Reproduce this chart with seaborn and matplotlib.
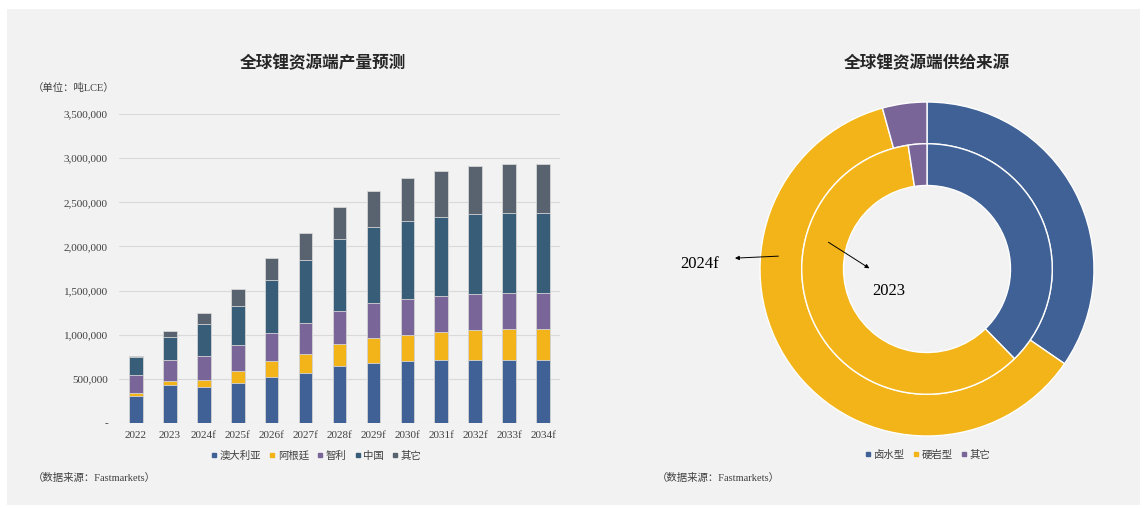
import numpy as np
import pandas as pd
import seaborn as sns
import matplotlib.pyplot as plt
from matplotlib.patches import Rectangle
from matplotlib.lines import Line2D
from matplotlib.ticker import FuncFormatter

# ---- data (吨LCE) ----
years = ["2022", "2023", "2024f", "2025f", "2026f", "2027f", "2028f",
         "2029f", "2030f", "2031f", "2032f", "2033f", "2034f"]
australia = [310000, 427000, 409000, 458000, 518000, 572000, 640000,
             677000, 697000, 708000, 708000, 712000, 712000]
argentina = [35000, 50000, 83000, 129000, 179000, 204000, 250000,
             281000, 295000, 322000, 345000, 348000, 350000]
chile = [200000, 231000, 262000, 291000, 326000, 360000, 383000,
         398000, 413000, 405000, 405000, 410000, 408000]
china = [205000, 265000, 363000, 452000, 602000, 708000, 810000,
         860000, 883000, 898000, 909000, 909000, 909000]
others = [8000, 65000, 129000, 185000, 240000, 304000, 360000,
          416000, 485000, 527000, 546000, 549000, 549000]
series_names = ["澳大利亚", "阿根廷", "智利", "中国", "其它"]
series_colors = ["#3F6196", "#F2B418", "#7A6599", "#385D78", "#58636F"]

ring_labels = ["卤水型", "硬岩型", "其它"]
share_2024f = [34.6, 61.1, 4.3]
share_2023 = [37.7, 59.9, 2.4]
ring_colors = ["#3F6196", "#F2B418", "#7A6599"]

sns.set_theme(style="white")
plt.rcParams['font.family'] = ['Liberation Serif', 'Noto Sans CJK SC']
plt.rcParams['axes.unicode_minus'] = False

W, H = 1146, 508
fig = plt.figure(figsize=(W / 100, H / 100), dpi=100, facecolor="white")
fig.patches.append(Rectangle((7 / W, 3 / H), 1133 / W, 496 / H, transform=fig.transFigure,
                             facecolor="#F2F2F2", edgecolor="none", zorder=-10))

def box(x0, y0, x1, y1):
    # pixel box (top-left origin) -> figure fraction rect
    return [x0 / W, 1 - y1 / H, (x1 - x0) / W, (y1 - y0) / H]

# ---- stacked bars ----
ax = fig.add_axes(box(119, 114, 560, 423))
ax.set_facecolor("none")
layers = [australia, argentina, chile, china, others]
cum = np.cumsum(np.array(layers), axis=0)
df = pd.DataFrame({"year": years})
for i in reversed(range(len(layers))):
    df["v"] = cum[i]
    sns.barplot(data=df, x="year", y="v", color=series_colors[i], saturation=1,
                width=0.4, edgecolor="#D6D6D6", linewidth=0.6, ax=ax, zorder=3)
ax.set_ylim(0, 3500000)
ax.set_xlim(-0.5, len(years) - 0.5)
ax.set_yticks(np.arange(0, 3500001, 500000))
ax.yaxis.set_major_formatter(FuncFormatter(lambda v, p: "-" if v == 0 else f"{int(v):,}"))
ax.grid(axis="y", color="#D9D9D9", linewidth=0.8, zorder=0)
ax.set_axisbelow(True)
for s in ax.spines.values():
    s.set_visible(False)
ax.set_xlabel("")
ax.set_ylabel("")
ax.tick_params(axis="y", labelsize=8, labelcolor="#404040", pad=8, length=0)
ax.tick_params(axis="x", labelsize=8, labelcolor="#404040", pad=6, length=0)

handles = [Line2D([], [], marker="s", linestyle="none", markersize=3.5,
                  color=c) for c in series_colors]
ax.legend(handles, series_names, loc="upper center", bbox_to_anchor=(0.448, -0.058),
          ncol=5, frameon=False, fontsize=7.5, handlelength=0.5, handletextpad=0.3,
          columnspacing=0.8, labelcolor="#404040")

fig.text(323 / W, 1 - 64 / H, "全球锂资源端产量预测", ha="center", va="center",
         fontsize=12, fontweight="bold", color="#262626")
fig.text(33 / W, 1 - 88 / H, "（单位：吨LCE）", ha="left", va="center",
         fontsize=7.5, color="#404040")
fig.text(33 / W, 1 - 478 / H, "（数据来源：Fastmarkets）", ha="left", va="center",
         fontsize=7.5, color="#404040")

# ---- donut ----
R = 167
cx, cy = 927, 269
pax = fig.add_axes(box(cx - R, cy - R, cx + R, cy + R))
pax.pie(share_2024f, colors=ring_colors, radius=1.0, startangle=90, counterclock=False,
        wedgeprops=dict(width=0.25, edgecolor="white", linewidth=1.0))
pax.pie(share_2023, colors=ring_colors, radius=0.75, startangle=90, counterclock=False,
        wedgeprops=dict(width=0.25, edgecolor="white", linewidth=1.0))
pax.set_xlim(-1, 1)
pax.set_ylim(-1, 1)
pax.set_aspect("equal")

pax.annotate("", xy=(-1.15, 0.065), xytext=(-0.89, 0.077),
             arrowprops=dict(arrowstyle="-|>", color="black", lw=0.7,
                             mutation_scale=6, shrinkA=0, shrinkB=0),
             annotation_clip=False)
pax.annotate("", xy=(-0.345, 0.004), xytext=(-0.59, 0.16),
             arrowprops=dict(arrowstyle="-|>", color="black", lw=0.7,
                             mutation_scale=6, shrinkA=0, shrinkB=0),
             annotation_clip=False)
pax.text(-1.36, 0.03, "2024f", ha="center", va="center", fontsize=12, color="black")
pax.text(-0.23, -0.13, "2023", ha="center", va="center", fontsize=12, color="black")

ring_handles = [Line2D([], [], marker="s", linestyle="none", markersize=3.5,
                       color=c) for c in ring_colors]
fig.legend(ring_handles, ring_labels, loc="center", bbox_to_anchor=(928 / W, 1 - 455 / H),
           ncol=3, frameon=False, fontsize=7.5, handlelength=0.5, handletextpad=0.3,
           columnspacing=0.8, labelcolor="#404040")

fig.text(927 / W, 1 - 64 / H, "全球锂资源端供给来源", ha="center", va="center",
         fontsize=12, fontweight="bold", color="#262626")
fig.text(657 / W, 1 - 478 / H, "（数据来源：Fastmarkets）", ha="left", va="center",
         fontsize=7.5, color="#404040")

fig.savefig("out.png", dpi=100, facecolor=fig.get_facecolor())
